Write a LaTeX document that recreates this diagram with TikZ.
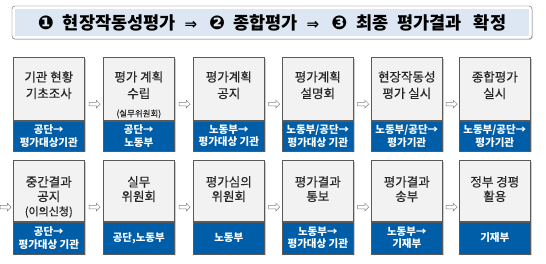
\documentclass[tikz,border=0pt]{standalone}
\usepackage{fontspec}
\setmainfont{Noto Sans CJK KR}
\newfontfamily\krmid{Noto Sans CJK KR}[FakeBold=0.5]
\newfontfamily\symfont{DejaVu Sans}
\usetikzlibrary{positioning,shapes.arrows,shadows,calc}

\definecolor{stepblue}{RGB}{0,94,168}
\definecolor{stepgray}{RGB}{242,242,242}
\definecolor{edgegray}{RGB}{90,90,90}
\definecolor{headblue}{RGB}{221,231,243}
\newcommand{\subnote}[1]{{\fontsize{8.5}{10}\selectfont #1}}
\newcommand{\bignum}[1]{{\symfont\fontsize{19}{19}\selectfont #1}}
\newcommand{\thenarrow}{{\symfont\fontsize{15}{15}\selectfont ⇒}}

\begin{document}
\begin{tikzpicture}[x=1pt, y=1pt,
    stepbox/.style={draw=edgegray, fill=stepgray, line width=0.6pt, minimum width=71pt,
        inner sep=0pt, anchor=north west,
        drop shadow={shadow xshift=1.5pt, shadow yshift=-1.5pt, fill=gray!80}},
    whobox/.style={draw=edgegray, fill=stepblue, line width=0.6pt, minimum width=71pt,
        inner sep=0pt, text=white, align=center, anchor=north,
        font=\fontsize{10.5}{12.5}\selectfont\bfseries,
        drop shadow={shadow xshift=1.5pt, shadow yshift=-1.5pt, fill=gray!80}},
    steptext/.style={font=\krmid\fontsize{12.5}{16.5}\selectfont, text=black!85, align=center,
        inner sep=0pt, anchor=north},
    lowtext/.style={steptext, font=\krmid\fontsize{12.5}{14.5}\selectfont},
    warrow/.style={single arrow, draw=gray, fill=white, line width=0.5pt, inner sep=1.6pt,
        minimum height=11pt, single arrow head extend=2pt}
]
\useasboundingbox (0,0) rectangle (546,263);
% Title bar
\node[draw=edgegray, fill=white, rounded corners=3pt, minimum width=520pt, minimum height=33pt,
    drop shadow={shadow xshift=1pt, shadow yshift=-1pt, fill=gray!60}] (hdr) at (272,240.5) {};
\node[fill=headblue, minimum width=514pt, minimum height=27pt, inner sep=0pt,
    font=\fontsize{17.5}{18}\selectfont\bfseries] (title) at (hdr.center)
    {\bignum{❶}\hspace{9pt}현장작동성평가\hspace{9pt}\thenarrow\hspace{12pt}\bignum{❷}\hspace{8pt}종합평가\hspace{9pt}\thenarrow\hspace{12pt}\bignum{❸}\hspace{9pt}최종\hspace{9pt}평가결과\hspace{12pt}확정};

% Row 1 boxes
\node[stepbox, minimum height=63pt] (s1) at (13,206) {};
\node[stepbox, minimum height=63pt] (s2) at (103,206) {};
\node[stepbox, minimum height=63pt] (s3) at (193,206) {};
\node[stepbox, minimum height=63pt] (s4) at (282,206) {};
\node[stepbox, minimum height=63pt] (s5) at (371,206) {};
\node[stepbox, minimum height=63pt] (s6) at (459,206) {};
\node[whobox, minimum height=30pt] (w1) at (s1.south) {공단→\\평가대상기관};
\node[whobox, minimum height=30pt] (w2) at (s2.south) {공단→\\노동부};
\node[whobox, minimum height=30pt] (w3) at (s3.south) {노동부→\\평가대상 기관};
\node[whobox, minimum height=30pt] (w4) at (s4.south) {노동부/공단→\\평가대상 기관};
\node[whobox, minimum height=30pt] (w5) at (s5.south) {노동부/공단→\\평가기관};
\node[whobox, minimum height=30pt] (w6) at (s6.south) {노동부/공단→\\평가기관};
\node[steptext] (t1) at ($(s1.north)+(0,-14)$) {기관 현황\\기초조사};
\node[steptext] (t2) at ($(s2.north)+(0,-14)$) {평가 계획\\수립\\[2pt]\subnote{(실무위원회)}};
\node[steptext] (t3) at ($(s3.north)+(0,-14)$) {평가계획\\공지};
\node[steptext] (t4) at ($(s4.north)+(0,-14)$) {평가계획\\설명회};
\node[steptext] (t5) at ($(s5.north)+(0,-14)$) {현장작동성\\평가 실시};
\node[steptext] (t6) at ($(s6.north)+(0,-14)$) {종합평가\\실시};

% Row 2 boxes
\node[stepbox, minimum height=61pt] (s7) at (13,103) {};
\node[stepbox, minimum height=61pt] (s8) at (103,103) {};
\node[stepbox, minimum height=61pt] (s9) at (193,103) {};
\node[stepbox, minimum height=61pt] (s10) at (282,103) {};
\node[stepbox, minimum height=61pt] (s11) at (371,103) {};
\node[stepbox, minimum height=61pt] (s12) at (459,103) {};
\node[whobox, minimum height=32pt] (w7) at (s7.south) {공단→\\평가대상 기관};
\node[whobox, minimum height=32pt] (w8) at (s8.south) {공단,노동부};
\node[whobox, minimum height=32pt] (w9) at (s9.south) {노동부};
\node[whobox, minimum height=32pt] (w10) at (s10.south) {노동부→\\평가대상 기관};
\node[whobox, minimum height=32pt] (w11) at (s11.south) {노동부→\\기재부};
\node[whobox, minimum height=32pt] (w12) at (s12.south) {기재부};
\node[lowtext] (t7) at ($(s7.north)+(0,-16)$) {중간결과\\공지\\{\fontsize{11}{12}\selectfont (이의신청)}};
\node[lowtext] (t8) at ($(s8.north)+(0,-16)$) {실무\\위원회};
\node[lowtext] (t9) at ($(s9.north)+(0,-16)$) {평가심의\\위원회};
\node[lowtext] (t10) at ($(s10.north)+(0,-16)$) {평가결과\\통보};
\node[lowtext] (t11) at ($(s11.north)+(0,-16)$) {평가결과\\송부};
\node[lowtext] (t12) at ($(s12.north)+(0,-16)$) {정부 경평\\활용};

% White arrows between the steps
\foreach \i in {1,...,12}
    \coordinate (c\i) at ($(s\i.north)!0.5!(w\i.south)$);
\foreach \a/\b in {1/2,2/3,3/4,4/5,5/6,7/8,8/9,9/10,10/11,11/12}
    \node[warrow] (a\a) at ($(c\a)!0.5!(c\b)$) {};
\coordinate (l7) at (s7.west |- c7);
\node[warrow, left=1.5pt of l7] (a0) {};
\end{tikzpicture}
\end{document}
